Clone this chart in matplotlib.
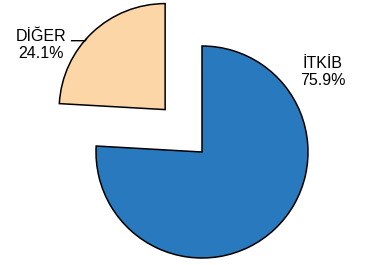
import numpy as np
import matplotlib
matplotlib.use("Agg")
import matplotlib.pyplot as plt

plt.rcParams["font.family"] = ["Liberation Sans", "DejaVu Sans"]

# slice data, clockwise from 12 o'clock
labels = ["İTKİB", "DİĞER"]
shares = [75.9, 24.1]
colors = ["#2979be", "#fdd6a8"]
explode = [0, 0.53]

fig = plt.figure(figsize=(3.69, 2.65), dpi=100)
ax = fig.add_axes([0, 0, 1, 1])

wedges, _ = ax.pie(shares, colors=colors, explode=explode, startangle=90,
                   counterclock=False, radius=1.0,
                   wedgeprops=dict(edgecolor="black", linewidth=1.1))

# the reference pulls the small slice out slightly off its bisector
w = wedges[1]
off = np.deg2rad(131)
w.set_center((explode[1] * np.cos(off), explode[1] * np.sin(off)))

# label for the big slice
ax.text(1.14, 0.755, f"{labels[0]}\n{shares[0]}%", ha="center", va="center",
        fontsize=11.5, linespacing=1.2)

# label for the exploded slice, with a short leader line
cx, cy = w.center
ang = np.deg2rad(138)
px, py = cx + w.r * np.cos(ang), cy + w.r * np.sin(ang)
ax.plot([-1.23, -1.10, px], [1.05, 1.05, py], color="black", lw=1.0)
ax.text(-1.52, 1.01, f"{labels[1]}\n{shares[1]}%", ha="center", va="center",
        fontsize=11.5, linespacing=1.2)

ax.set_xlim(-202 / 106, (369 - 202) / 106)
ax.set_ylim(-113 / 106, 152 / 106)
ax.set_aspect("equal")
ax.axis("off")

fig.savefig("out.png", dpi=100)
